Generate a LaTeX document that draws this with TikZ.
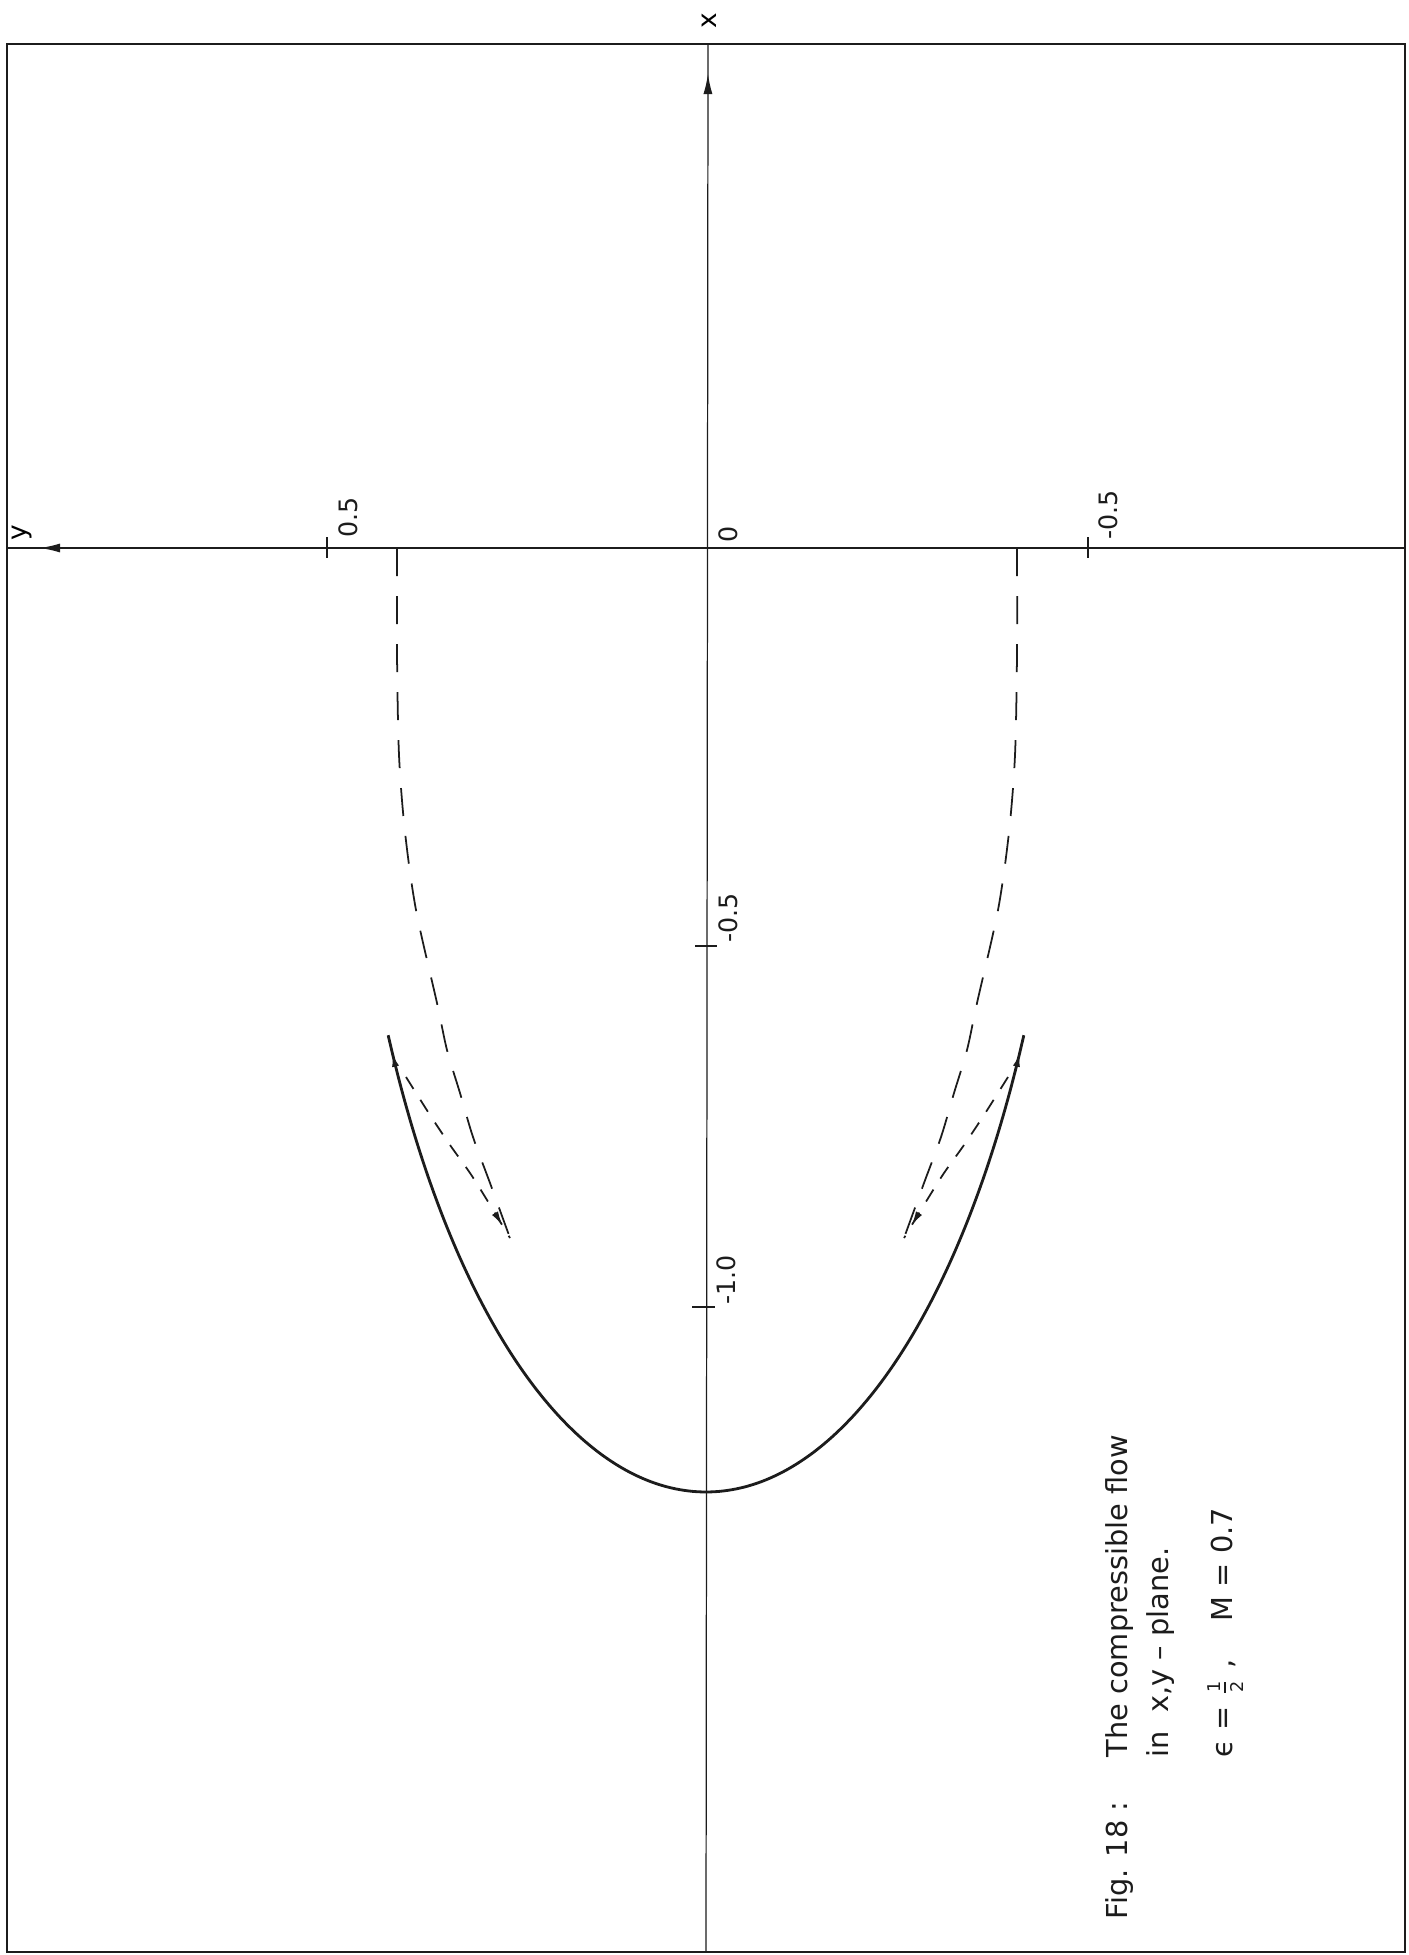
\documentclass[tikz,border=0pt]{standalone}
\usepackage{fontspec}
\setmainfont{DejaVu Sans}
\usetikzlibrary{arrows.meta, decorations.markings}
\usepackage{xcolor}
\definecolor{plotink}{HTML}{1C1C1C}

\newcommand{\halfsym}{$\frac{\hbox{\tiny 1}}{\hbox{\tiny 2}}$}

\begin{document}
\begin{tikzpicture}[
  x=0.01cm, y=-0.01cm,
  framebox/.style={draw=plotink, line width=0.6pt},
  axisline/.style={draw=plotink, line width=0.35pt},
  tickline/.style={draw=plotink, line width=0.4pt},
  bodyline/.style={draw=plotink, line width=0.8pt},
  ldash/.style={draw=plotink, line width=0.5pt, dash pattern=on 0.28cm off 0.2cm},
  sdash/.style={draw=plotink, line width=0.5pt, dash pattern=on 0.14cm off 0.13cm},
  num/.style={font=\fontsize{7.2}{8}\selectfont, text=plotink,
    rotate=90, inner sep=0pt, anchor=north west},
  captext/.style={font=\fontsize{8.2}{10}\selectfont, text=plotink,
    rotate=90, inner sep=0pt, anchor=base west},
  axtip/.style={postaction={decorate, decoration={markings,
    mark=at position -#1 with {\arrow{Latex[length=2mm,width=0.9mm]}}}}},
  endtip/.style={postaction={decorate, decoration={markings,
    mark=at position -#1 with {\arrow{Latex[length=1.5mm,width=0.7mm]}}}}},
  bothtips/.style={postaction={decorate, decoration={markings,
    mark=at position #1 with {\arrowreversed{Latex[length=1.5mm,width=0.7mm]}},
    mark=at position -#1 with {\arrow{Latex[length=1.5mm,width=0.7mm]}}}}}
]
  \useasboundingbox (0,0) rectangle (1408,1955);

  % frame and axes
  \draw[framebox] (7,44) rectangle (1405,1952);
  \coordinate (xbot) at (706,1952);
  \coordinate (xtop) at (708,44);
  \coordinate (yright) at (1405,548);
  \coordinate (yleft) at (7,548);
  \draw[axisline, axtip=0.3cm] (xbot) -- (xtop);
  \draw[axisline, axtip=0.33cm] (yright) -- (yleft);

  \node[font=\fontsize{7.5}{8}\selectfont, rotate=90] (xlab) at (709,21) {x};
  \node[font=\fontsize{7.5}{8}\selectfont, rotate=90] (ylab) at (22,533) {y};

  % ticks
  \draw[tickline] (327,537) -- (327,558);
  \draw[tickline] (1088,537) -- (1088,558);
  \draw[tickline] (695,946) -- (717,946);
  \draw[tickline] (692,1307) -- (715,1307);

  \node[num] (ypos) at (338,538) {0.5};
  \node[num] (orig) at (718,543) {0};
  \node[num] (yneg) at (1098,540) {-0.5};
  \node[num] (xhalf) at (718,943) {-0.5};
  \node[num] (xone) at (716,1305) {-1.0};

  % body contour (elliptic arc)
  \draw[bodyline, bothtips=0.17cm] plot[smooth, domain=151:29, samples=90, variable=\t]
    ({706+363.4*cos(\t)}, {605.4+886.6*sin(\t)});

  % dashed lines
  \draw[ldash] plot[smooth] coordinates {
    (397,548) (397,653) (399,755) (405,832) (416,910) (437,1003)
    (447,1050) (460,1093) (473,1137) (490,1183) (510,1238)};
  \draw[ldash] plot[smooth] coordinates {
    (1017,548) (1017,653) (1015,755) (1009,832) (998,910) (977,1003)
    (967,1050) (954,1093) (941,1137) (924,1183) (904,1238)};
  \draw[sdash, endtip=0.14cm] plot[smooth] coordinates {
    (406,1077) (430,1115) (450,1145) (470,1173) (487,1200) (510,1238)};
  \draw[sdash, endtip=0.14cm] plot[smooth] coordinates {
    (1008,1077) (984,1115) (964,1145) (944,1173) (927,1200) (904,1238)};

  % caption
  \node[captext] (figno) at (1127,1920) {Fig. 18 :};
  \node[captext] (capa) at (1127,1758) {The compressible flow};
  \node[captext] (capb) at ([xshift=0.41cm]capa.base west) {in\ \ x,y – plane.};
  \node[captext] (capc) at ([xshift=1.05cm]capa.base west) {ϵ = \halfsym\ , \quad M = 0.7};
\end{tikzpicture}
\end{document}
